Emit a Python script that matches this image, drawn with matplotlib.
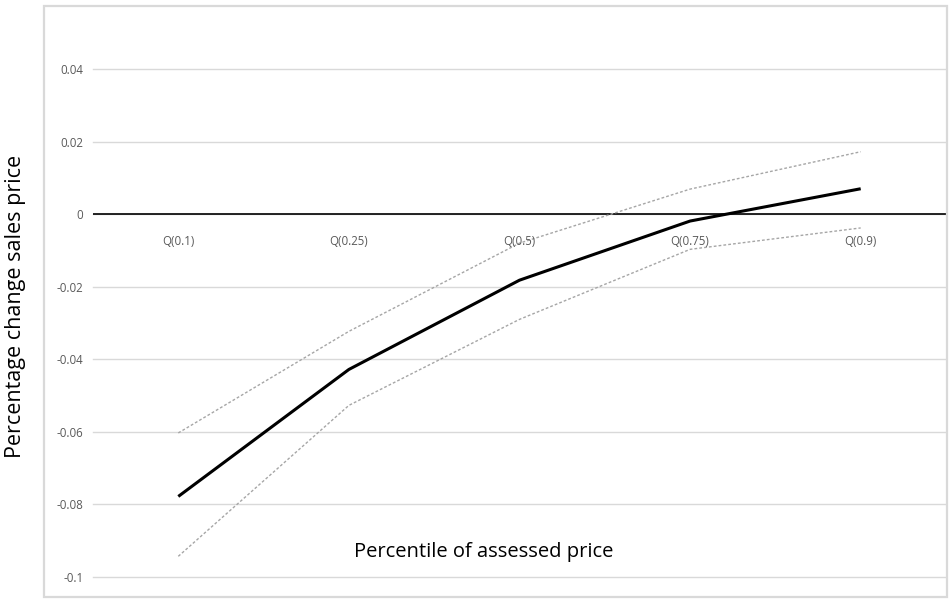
import matplotlib
matplotlib.use('Agg')
import matplotlib.pyplot as plt
from matplotlib.patches import Rectangle

# Data
categories = ['Q(0.1)', 'Q(0.25)', 'Q(0.5)', 'Q(0.75)', 'Q(0.9)']
estimate = [-0.0778, -0.0428, -0.0182, -0.0019, 0.0070]
upper = [-0.0603, -0.0323, -0.0080, 0.0069, 0.0172]
lower = [-0.0943, -0.0527, -0.0290, -0.0097, -0.0038]
yticks = [0.04, 0.02, 0, -0.02, -0.04, -0.06, -0.08, -0.1]
ytick_labels = ['0.04', '0.02', '0', '-0.02', '-0.04', '-0.06', '-0.08', '-0.1']

plt.rcParams['font.family'] = ['Open Sans', 'DejaVu Sans']

W, H = 949, 605
fig = plt.figure(figsize=(W / 100, H / 100), dpi=100)

# outer chart border (Excel style)
fig.patches.append(Rectangle((44 / W, 1 - 597 / H), (947 - 44) / W, (597 - 6) / H,
                             transform=fig.transFigure, fill=False,
                             edgecolor='#d9d9d9', lw=1.6))

ax = fig.add_axes([93 / W, 1 - 577 / H, (946 - 93) / W, (577 - 69) / H])
ax.set_xlim(-0.5, 4.5)
ax.set_ylim(-0.1, 0.04)
for s in ax.spines.values():
    s.set_visible(False)

# horizontal gridlines
for t in yticks:
    ax.axhline(t, color='#d9d9d9', lw=1, zorder=1, clip_on=False)
ax.axhline(0, color='black', lw=1.2, zorder=2)

x = list(range(len(categories)))
ax.plot(x, upper, color='#a6a6a6', lw=1, linestyle=(0, (2, 1.5)), zorder=3)
ax.plot(x, lower, color='#a6a6a6', lw=1, linestyle=(0, (2, 1.5)), zorder=3)
ax.plot(x, estimate, color='black', lw=2.2, zorder=4, solid_capstyle='butt')

ax.set_yticks(yticks)
ax.set_yticklabels(ytick_labels, color='#595959', fontsize=8.3)
ax.tick_params(axis='y', length=0, pad=7)
ax.set_xticks([])

# category labels sit just below the zero line
for i, c in enumerate(categories):
    ax.annotate(c, (i, 0), xytext=(0, -19.5), textcoords='offset points',
                ha='center', va='center', fontsize=8.3, color='#595959')

ax.text(0.458, 0.05, 'Percentile of assessed price', transform=ax.transAxes,
        ha='center', va='center', fontsize=14.5, color='black')
fig.text(16 / W, 1 - 306 / H, 'Percentage change sales price', rotation=90,
         ha='center', va='center', fontsize=15.5, color='black')

fig.savefig('out.png', dpi=100)
